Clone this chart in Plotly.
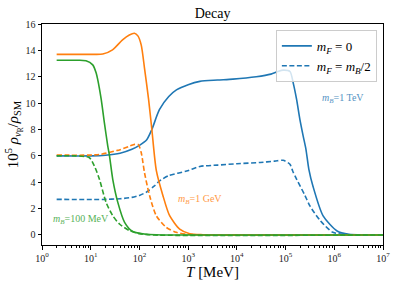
import plotly.graph_objects as go

# ---- data (T in MeV, y = 10^5 rho_nuR / rho_SM) ----
T_blue_solid = [2, 10, 20, 40, 70, 100, 140, 180, 257, 400, 575, 1000, 1740, 4000, 8300, 25000, 50000, 70000, 89000, 123000, 144000, 168000, 197000, 230000, 262000, 300000, 365000, 590000, 1140000, 2000000, 4000000, 10000000]
y_blue_solid = [6.0, 6.0, 6.05, 6.2, 6.5, 6.8, 7.2, 8.0, 9.5, 10.5, 11.0, 11.4, 11.65, 11.75, 11.82, 12.0, 12.2, 12.4, 12.5, 12.4, 11.5, 10.3, 8.75, 7.5, 6.5, 5.0, 3.7, 1.45, 0.3, 0.05, 0.0, 0.0]

T_blue_dash = [2, 20, 40, 70, 100, 139, 200, 260, 400, 930, 1740, 4000, 10000, 30000, 60000, 89000, 123000, 140000, 170000, 250000, 316000, 513000, 935000, 2000000, 4000000, 10000000]
y_blue_dash = [2.7, 2.7, 2.75, 2.85, 3.0, 3.25, 3.7, 4.1, 4.5, 4.85, 5.2, 5.3, 5.4, 5.5, 5.6, 5.66, 5.36, 4.85, 4.2, 3.0, 2.2, 1.1, 0.2, 0.02, 0.0, 0.0]

T_orange_solid = [2, 10, 17.7, 28, 45, 62, 79, 93, 109, 127, 154, 180, 222, 303, 417, 670, 1080, 2000, 5000, 10000000]
y_orange_solid = [13.7, 13.7, 13.72, 14.04, 14.8, 15.17, 15.3, 15.1, 14.4, 12.66, 10.3, 8.0, 4.9, 3.0, 1.46, 0.45, 0.1, 0.02, 0.0, 0.0]

T_orange_dash = [2, 15, 34, 39, 63, 80, 95, 109, 127, 162, 222, 355, 570, 1000, 3000, 10000000]
y_orange_dash = [6.06, 6.1, 6.4, 6.45, 6.74, 6.87, 6.85, 6.24, 4.73, 2.97, 1.46, 0.58, 0.2, 0.05, 0.0, 0.0]

T_green_solid = [2, 5, 8, 11, 12.9, 13.9, 16.4, 19.1, 22.4, 24.3, 28.4, 36, 49.6, 73, 140, 300, 10000000]
y_green_solid = [13.25, 13.25, 13.22, 12.9, 12.3, 11.8, 10.3, 8.5, 6.74, 6.0, 4.2, 2.47, 0.96, 0.26, 0.05, 0.0, 0.0]

T_green_dash = [2, 5, 9.4, 11.9, 15.1, 20.7, 28.4, 39, 62.6, 100, 200, 10000000]
y_green_dash = [6.0, 6.0, 5.86, 5.23, 4.23, 2.47, 1.46, 0.83, 0.33, 0.1, 0.0, 0.0]

x_tick_vals = [1, 10, 100, 1000, 10000, 100000, 1000000, 10000000]
x_tick_text = ["10<sup>0</sup>", "10<sup>1</sup>", "10<sup>2</sup>", "10<sup>3</sup>", "10<sup>4</sup>", "10<sup>5</sup>", "10<sup>6</sup>", "10<sup>7</sup>"]
y_tick_vals = [0, 2, 4, 6, 8, 10, 12, 14, 16]

BLUE, ORANGE, GREEN = "#1f77b4", "#ff7f0e", "#2ca02c"
FONT = "Liberation Serif, DejaVu Serif, serif"

fig = go.Figure()

def add(T, y, color, dash, name=None, legend=False):
    fig.add_trace(go.Scatter(
        x=T, y=y, mode="lines",
        line=dict(color=color, width=1.6, dash=dash, shape="spline", smoothing=0.7),
        name=name, showlegend=legend))

add(T_blue_solid, y_blue_solid, BLUE, "solid", "<i>m<sub>F</sub></i> = 0", True)
add(T_blue_dash, y_blue_dash, BLUE, "5px,2.5px", "<i>m<sub>F</sub></i> = <i>m<sub>B</sub></i>/2", True)
add(T_orange_solid, y_orange_solid, ORANGE, "solid")
add(T_orange_dash, y_orange_dash, ORANGE, "5px,2.5px")
add(T_green_dash, y_green_dash, GREEN, "5px,2.5px")
add(T_green_solid, y_green_solid, GREEN, "solid")

minor_vals = [m * 10 ** e for e in range(0, 7) for m in range(2, 10)]

fig.update_xaxes(
    type="log", range=[0, 7], automargin=False,
    tickvals=x_tick_vals, ticktext=x_tick_text,
    ticks="outside", ticklen=3.5, tickwidth=0.8, tickcolor="black",
    minor=dict(tickvals=minor_vals, ticks="outside", ticklen=2, tickwidth=0.6, tickcolor="black"),
    showline=True, linecolor="black", linewidth=1, mirror=True,
    showgrid=False, zeroline=False,
    tickfont=dict(family=FONT, size=10, color="#222"),
    title=dict(text="<i>T</i> [MeV]", font=dict(family=FONT, size=15, color="black"), standoff=2),
)
fig.update_yaxes(
    range=[-0.76, 16], automargin=False,
    tickvals=y_tick_vals,
    ticks="outside", ticklen=3.5, tickwidth=0.8, tickcolor="black",
    showline=True, linecolor="black", linewidth=1, mirror=True,
    showgrid=False, zeroline=False,
    tickfont=dict(family=FONT, size=10, color="#222"),
    title=dict(text="10<sup>5</sup> <i>ρ</i><sub><i>ν</i><sub>R</sub></sub>/<i>ρ</i><sub>SM</sub>",
               font=dict(family=FONT, size=15, color="black"), standoff=2),
)

fig.add_annotation(x=5.71, y=10.34, xref="x", yref="y", text="<i>m<sub>B</sub></i>=1 TeV",
                   showarrow=False, xanchor="left", font=dict(family=FONT, size=10, color=BLUE), opacity=0.8)
fig.add_annotation(x=2.76, y=2.72, xref="x", yref="y", text="<i>m<sub>B</sub></i>=1 GeV",
                   showarrow=False, xanchor="left", font=dict(family=FONT, size=10, color=ORANGE), opacity=0.8)
fig.add_annotation(x=0.19, y=1.21, xref="x", yref="y", text="<i>m<sub>B</sub></i>=100 MeV",
                   showarrow=False, xanchor="left", font=dict(family=FONT, size=10, color=GREEN), opacity=0.8)

fig.update_layout(
    width=398, height=286,
    margin=dict(l=42, r=15, t=24, b=41, autoexpand=False),
    paper_bgcolor="white", plot_bgcolor="white",
    font=dict(family=FONT),
    title=dict(text="Decay", x=0.534, xanchor="center", y=0.955, yanchor="middle",
               font=dict(family=FONT, size=14, color="black")),
    legend=dict(x=0.982, y=0.973, xanchor="right", yanchor="top",
                bgcolor="rgba(255,255,255,0.8)", bordercolor="#cccccc", borderwidth=1,
                font=dict(family=FONT, size=13, color="black"), itemwidth=30,
                tracegroupgap=0),
    showlegend=True,
)

fig.write_html("out.html", config={"displayModeBar": False},
               post_script="document.body.style.margin='0';document.body.style.padding='0';")
